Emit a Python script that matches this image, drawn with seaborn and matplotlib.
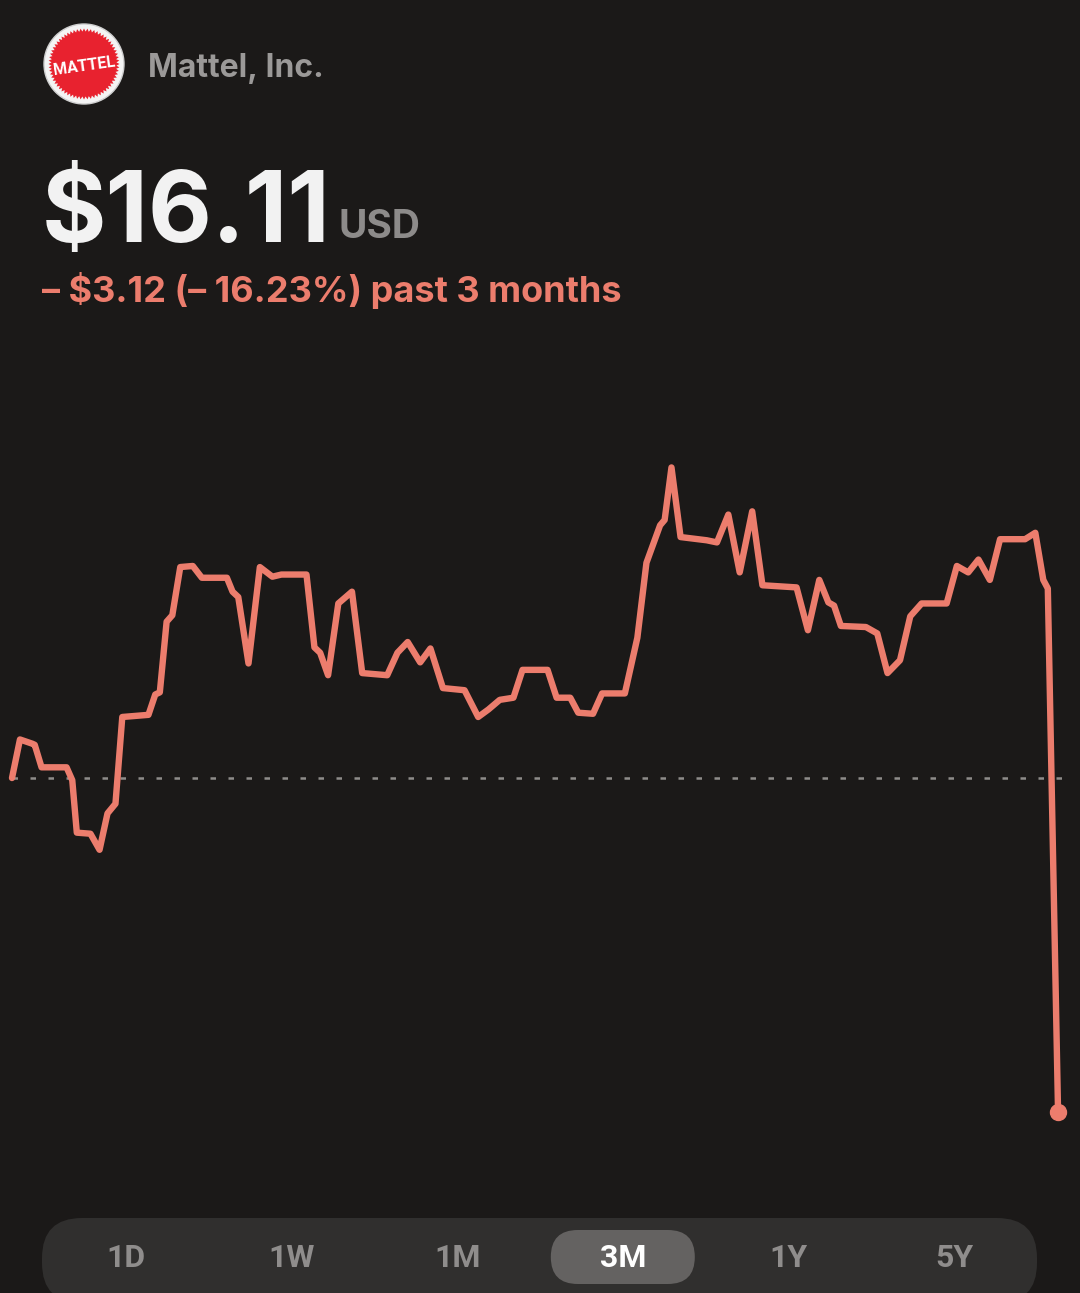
import numpy as np
import pandas as pd
import matplotlib
matplotlib.use("Agg")
import matplotlib.pyplot as plt
from matplotlib.patches import Circle, Polygon, FancyBboxPatch
import seaborn as sns

# --- Data ---
company = "Mattel, Inc."
last_price = 16.11
prev_close = 19.23
change_text = "\u2013 $3.12 (\u2013 16.23%) past 3 months"
ranges = ["1D", "1W", "1M", "3M", "1Y", "5Y"]
selected_range = "3M"

days = [0.0, 0.7, 1.8, 2.0, 2.6, 4.8, 5.3, 5.7, 6.9, 7.7, 8.4, 9.1, 9.7, 12.0,
        12.6, 13.0, 13.6, 14.1, 14.8, 15.9, 16.7, 18.9, 19.4, 19.9, 20.8, 21.8,
        22.9, 23.7, 25.9, 26.6, 27.1, 27.8, 28.7, 29.9, 30.8, 33.0, 33.9, 34.8,
        35.9, 36.8, 37.9, 39.8, 41.0, 41.9, 42.9, 44.1, 44.9, 47.1, 47.9, 49.1,
        49.8, 51.1, 51.9, 53.9, 55.0, 55.8, 57.0, 57.4, 58.0, 58.8, 61.1, 62.0,
        63.0, 64.0, 65.1, 66.0, 69.0, 70.0, 71.0, 71.8, 72.3, 72.9, 75.1, 76.1,
        77.0, 78.1, 79.0, 80.0, 82.2, 83.1, 84.1, 85.0, 86.0, 86.9, 89.1, 90.0,
        90.7, 91.1, 92.0]
prices = [19.23, 19.59, 19.55, 19.54, 19.33, 19.33, 19.21, 18.72, 18.71, 18.56,
          18.90, 18.99, 19.80, 19.82, 20.01, 20.03, 20.69, 20.75, 21.20, 21.21,
          21.10, 21.10, 20.97, 20.92, 20.30, 21.20, 21.11, 21.13, 21.13, 20.45,
          20.40, 20.19, 20.86, 20.97, 20.21, 20.19, 20.40, 20.50, 20.31, 20.44,
          20.07, 20.05, 19.80, 19.87, 19.96, 19.98, 20.24, 20.24, 19.98, 19.98,
          19.84, 19.83, 20.02, 20.02, 20.54, 21.24, 21.59, 21.64, 22.13, 21.48,
          21.45, 21.43, 21.69, 21.15, 21.72, 21.03, 21.01, 20.61, 21.08, 20.87,
          20.84, 20.65, 20.64, 20.58, 20.21, 20.33, 20.74, 20.86, 20.86, 21.21,
          21.15, 21.27, 21.08, 21.46, 21.46, 21.52, 21.08, 21.00, 16.11]

df = pd.DataFrame({"day": days, "price": prices})

# --- Style ---
BG = "#1b1918"
LINE = "#ec7d6d"
W, H = 1080, 1293

sns.set_theme(style="dark", rc={"figure.facecolor": BG, "axes.facecolor": BG,
                                 "savefig.facecolor": BG})
plt.rcParams["font.family"] = ["Inter", "DejaVu Sans"]

fig = plt.figure(figsize=(W / 100, H / 100), dpi=100)

# --- Price chart ---
ax = fig.add_axes([0, 1 - 1200 / H, 1, 860 / H])
ax.set_facecolor(BG)
sns.lineplot(data=df, x="day", y="price", ax=ax, color=LINE, linewidth=4.6,
             sort=False, estimator=None, solid_joinstyle="round",
             solid_capstyle="round", zorder=3)
ax.hlines(prev_close, 0, 92.6, colors="#8e8c8a", linewidth=1.8,
          linestyles=(0, (2.2, 5.0)), zorder=2)
ax.plot([days[-1]], [prices[-1]], "o", color=LINE, markersize=11.5, zorder=4)
ax.set_xlim(-1.055, 93.93)
ax.set_ylim(15.29, 23.32)
ax.set_axis_off()

# --- Overlay in pixel coordinates for header and range selector ---
ov = fig.add_axes([0, 0, 1, 1])
ov.set_xlim(0, W)
ov.set_ylim(H, 0)
ov.set_axis_off()
ov.patch.set_alpha(0)

# logo
cx, cy = 84, 64
ov.add_patch(Circle((cx, cy), 40, facecolor="#f4f4f4", edgecolor="#cfcfcf", lw=1))
n = 64
ang = np.linspace(0, 2 * np.pi, 2 * n, endpoint=False)
rad = np.where(np.arange(2 * n) % 2 == 0, 35.5, 32.5)
ov.add_patch(Polygon(np.c_[cx + rad * np.cos(ang), cy + rad * np.sin(ang)],
                     closed=True, facecolor="#e8222f", edgecolor="none"))
ov.text(cx, cy + 2, "MATTEL", color="white", fontsize=11.5, fontweight="bold",
        ha="center", va="center", rotation=8, family=["Roboto", "DejaVu Sans"])

ov.text(148, 77, company, color="#9b9998", fontsize=23, fontweight="bold",
        ha="left", va="baseline")
price_txt = ov.text(42, 242, f"${last_price:.2f}", color="#f2f2f2", fontsize=71,
                    fontweight="bold", ha="left", va="baseline")
fig.canvas.draw()
bb = price_txt.get_window_extent()
ov.text(bb.x1 + 8, 238, "USD", color="#8d8b8a", fontsize=28, fontweight="bold",
        ha="left", va="baseline")
ov.text(42, 302, change_text, color=LINE, fontsize=26, fontweight="bold",
        ha="left", va="baseline")

# range selector
ov.add_patch(FancyBboxPatch((42, 1218), 995, 85,
                            boxstyle="round,pad=0,rounding_size=40",
                            facecolor="#302f2e", edgecolor="none"))
xs = np.linspace(126, 954, len(ranges))
for x, lab in zip(xs, ranges):
    sel = lab == selected_range
    if sel:
        ov.add_patch(FancyBboxPatch((x - 72, 1230), 144, 54,
                                    boxstyle="round,pad=0,rounding_size=27",
                                    facecolor="#646261", edgecolor="none"))
    ov.text(x, 1258, lab, color="white" if sel else "#8f8d8c", fontsize=23,
            fontweight="bold", ha="center", va="center",
            family=["Roboto", "DejaVu Sans"])

fig.savefig("out.png", dpi=100, facecolor=BG)
